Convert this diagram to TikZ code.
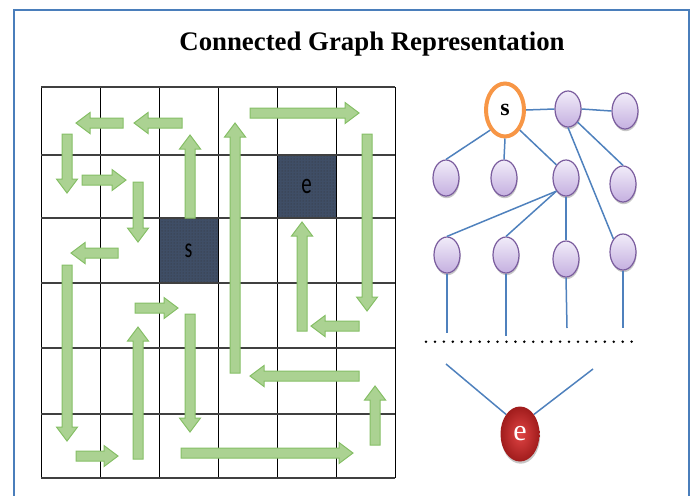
\documentclass[tikz,border=0pt]{standalone}
\usepackage{fontspec}
\setmainfont{Liberation Serif}
\newfontfamily\calibri{Carlito}
\usetikzlibrary{shapes.geometric,patterns,shadows}

\definecolor{frameblue}{HTML}{4A7EBB}
\definecolor{edgeblue}{HTML}{4F81BD}
\definecolor{cellfill}{HTML}{3F4E66}
\definecolor{arrowfill}{HTML}{ABD292}
\definecolor{arrowline}{HTML}{86BF66}
\definecolor{vertexline}{HTML}{7A5C9E}
\definecolor{vertextop}{HTML}{F1ECF9}
\definecolor{vertexbot}{HTML}{C5B0E0}
\definecolor{startorange}{HTML}{F79646}
\definecolor{endinner}{HTML}{E04444}
\definecolor{endouter}{HTML}{A01C1C}

\tikzset{
  gridline/.style={line width=0.8pt, black},
  rowline/.style={line width=1.2pt, black!75},
  blockcell/.style={preaction={fill=cellfill}, pattern=dots, pattern color=black!80, draw=black, line width=0.8pt},
  blockarrow/.style={fill=arrowfill, draw=arrowline, line width=1pt, line join=miter},
  vertex/.style={ellipse, minimum width=26pt, minimum height=36pt, inner sep=0pt,
    draw=vertexline, line width=1.2pt, top color=vertextop, bottom color=vertexbot,
    drop shadow={shadow xshift=0.6pt, shadow yshift=-2.2pt, opacity=0.22, fill=black}},
  startvertex/.style={ellipse, minimum width=38pt, minimum height=53pt, inner sep=0pt,
    draw=startorange, line width=4pt, fill=white},
  endvertex/.style={ellipse, minimum width=39pt, minimum height=55pt, inner sep=0pt,
    inner color=endinner, outer color=endouter, text=white,
    drop shadow={shadow xshift=0.6pt, shadow yshift=-2.2pt, opacity=0.22, fill=black}},
  edge/.style={draw=edgeblue, line width=1.5pt},
}

% block arrow: tail x, tail y, length, direction angle (0 right, 90 up, 180 left, 270 down)
\newcommand\garrow[4]{%
  \draw[blockarrow, shift={(#1,#2)}, rotate=#4]
    (0,-5) -- ({#3-14},-5) -- ({#3-14},-10.5) -- (#3,0) -- ({#3-14},10.5) -- ({#3-14},5) -- (0,5) -- cycle;}

\begin{document}
\begin{tikzpicture}[x=1pt, y=-1pt]
\useasboundingbox (0,0) rectangle (695,495);
\clip (0,0) rectangle (695,495);

% outer frame
\draw[frameblue, line width=2pt] (14,10) rectangle (689,510);

% title
\node[anchor=base, inner sep=0pt] (title) at (372,51)
  {\fontsize{26.8}{26.8}\selectfont\bfseries Connected Graph Representation};

% ---------------- grid with path arrows ----------------
\draw[blockcell] (159,218) rectangle (218,283);
\draw[blockcell] (277,155) rectangle (336,218);
\node[inner sep=0pt] (cells) at (188.5,251) {\scalebox{1}[1.4]{\calibri\fontsize{20}{20}\selectfont s}};
\node[inner sep=0pt] (celle) at (306.5,186) {\scalebox{1}[1.4]{\calibri\fontsize{21}{21}\selectfont e}};

\foreach \x in {41,100,159,218,277,336,395} \draw[gridline] (\x,87) -- (\x,478);
\foreach \y in {87,155,218,283,348,414,478} \draw[rowline] (41,\y) -- (395,\y);

\garrow{123}{123}{47}{180}
\garrow{182}{123}{48}{180}
\garrow{67}{134}{59}{270}
\garrow{82}{180}{44}{0}
\garrow{138}{182}{60}{270}
\garrow{190}{218}{83}{90}
\garrow{235}{373}{250}{90}
\garrow{250}{113}{109}{0}
\garrow{367}{134}{177}{270}
\garrow{118}{253}{47}{180}
\garrow{67}{265}{176}{270}
\garrow{135}{308}{43}{0}
\garrow{138}{459}{132}{90}
\garrow{190}{314}{118}{270}
\garrow{302}{331}{109}{90}
\garrow{359}{326}{48}{180}
\garrow{359}{376}{109}{180}
\garrow{375}{445}{59}{90}
\garrow{76}{456}{42}{0}
\garrow{181}{453}{172}{0}

% ---------------- graph ----------------
\node[startvertex] (s) at (505,110) {\fontsize{24}{24}\selectfont\bfseries s};
\node[vertex] (n1) at (568,109) {};
\node[vertex] (n2) at (625,111) {};
\node[vertex] (r21) at (446,178) {};
\node[vertex] (r22) at (504,178) {};
\node[vertex] (r23) at (566,178) {};
\node[vertex] (r24) at (623,184) {};
\node[vertex] (r31) at (447,255) {};
\node[vertex] (r32) at (506,255) {};
\node[vertex] (r33) at (566,259) {};
\node[vertex] (r34) at (623,252) {};
\node[endvertex] (e) at (520,434) {\fontsize{30}{30}\selectfont e};

\coordinate (d1) at (447,333);
\coordinate (d2) at (506,336);
\coordinate (d3) at (567,328);
\coordinate (d4) at (623,328);
\coordinate (u1) at (446,364);
\coordinate (u2) at (593,369);

\draw[edge] (s.east) -- (n1.west);
\draw[edge] (n1.east) -- (n2.west);
\draw[edge] (s.south west) -- (r21.north);
\draw[edge] (s.south) -- (r22.north);
\draw[edge] (s.south east) -- (r23.north west);
\draw[edge] (n1.south east) -- (r24.north);
\draw[edge] (n1.south) -- (r34.north west);
\draw[edge] (r23.south west) -- (r31.north);
\draw[edge] (r23.south west) -- (r32.north);
\draw[edge] (r23.south) -- (r33.north);
\draw[edge] (r31.south) -- (d1);
\draw[edge] (r32.south) -- (d2);
\draw[edge] (r33.south) -- (d3);
\draw[edge] (r34.south) -- (d4);
\draw[edge] (u1) -- (e.north west);
\draw[edge] (u2) -- (e.north east);

% row of dots standing for the omitted levels
\foreach \i in {0,...,23} \fill[black] ({426+\i*8.94},341.7) circle (1.4);

\end{tikzpicture}
\end{document}
